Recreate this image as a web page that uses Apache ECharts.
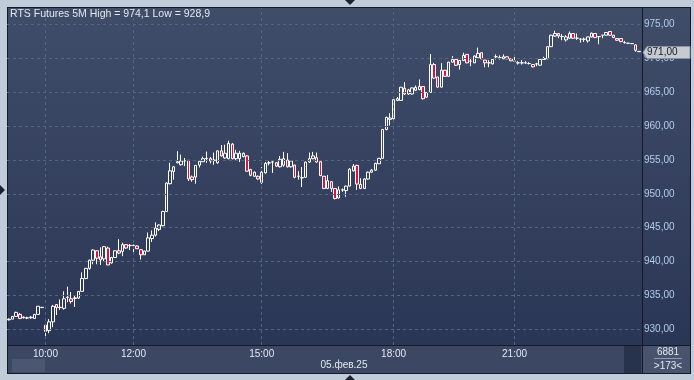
<!DOCTYPE html>
<html>
<head>
<meta charset="utf-8">
<script src="https://cdn.jsdelivr.net/npm/echarts@6/dist/echarts.min.js"></script>
<style>
  html, body { margin:0; padding:0; }
  body { width:694px; height:380px; background:#c0ccda; position:relative; overflow:hidden; font-family:"Liberation Sans", Arial, sans-serif; }
  .abs { position:absolute; }
  #plotbg { left:8px; top:8px; width:634px; height:337px; background:linear-gradient(#404d69, #2a3655); }
  #rpanel { left:643px; top:8px; width:47px; height:337px; background:linear-gradient(#404d69, #2a3655); }
  #xband { left:8px; top:346px; width:634px; height:27px; background:#3b4763; }
  #thumb { left:12px; top:359px; width:33px; height:13px; background:#4b5771; }
  #dark { left:624px; top:346px; width:17px; height:27px; background:#27324c; }
  #rcell { left:643px; top:346px; width:47px; height:27px; background:#48546e; }
  .bl { background:#151a26; }
  #chart { position:absolute; left:0; top:0; width:694px; height:380px; }
  .tri { width:0; height:0; position:absolute; }
</style>
</head>
<body>
<div class="abs" id="plotbg"></div>
<div class="abs" id="rpanel"></div>
<div class="abs" id="xband"></div>
<div class="abs" id="thumb"></div>
<div class="abs" id="dark"></div>
<div class="abs" id="rcell"></div>
<div class="abs bl" style="left:7px;top:7px;width:684px;height:1px;"></div>
<div class="abs bl" style="left:7px;top:7px;width:1px;height:366px;"></div>
<div class="abs bl" style="left:642px;top:8px;width:1px;height:365px;"></div>
<div class="abs bl" style="left:8px;top:345px;width:682px;height:1px;"></div>
<div class="abs bl" style="left:690px;top:7px;width:1px;height:366px;"></div>
<div class="abs bl" style="left:7px;top:373px;width:684px;height:1px;"></div>
<div class="tri" style="left:345px;top:0;border-left:5px solid transparent;border-right:5px solid transparent;border-top:5px solid #1c2232;"></div>
<div class="tri" style="left:345px;top:375px;border-left:5px solid transparent;border-right:5px solid transparent;border-bottom:5px solid #1c2232;"></div>
<div class="tri" style="left:0;top:185px;border-top:5px solid transparent;border-bottom:5px solid transparent;border-left:5px solid #1c2232;"></div>
<div id="chart"></div>
<script>
// ---- data ----
const sessions = [['09:10', '13:55'], ['14:05', '18:45'], ['19:05', '23:50']];
const timeLabels = ['10:00', '12:00', '15:00', '18:00', '21:00'];
const priceTicks = [930, 935, 940, 945, 950, 955, 960, 965, 970, 975];
const dateLabel = '05.фев.25';
const volumeText = '6881';
const barsText = '>173<';

// rows: [open, close, low, high]
const candlesMorning = [
  [931.4,931.5,931.3,931.6],[931.5,931.9,931.5,931.95],[931.9,932.5,931.85,932.6],[932.2,931.6,931.5,932.4],
  [931.7,931.8,931.6,931.9],[931.7,931.65,931.5,931.85],[931.7,931.8,931.55,931.95],[931.6,932.2,931.6,932.2],
  [932.2,933.4,932.2,933.4],[933.2,933.25,933.2,933.3],[930.6,929.7,928.9,930.8],[929.8,931.1,929.4,931.5],
  [931.1,933.4,930.3,933.6],[933.65,933.2,932.1,933.7],[933.2,933.25,932.9,934.4],[933.1,934.5,932.9,935.6],
  [934.7,934.75,934.0,936.3],[934.5,934.1,933.8,935.5],[934.55,934.65,933.3,935.0],[934.6,935.6,934.5,935.6],
  [935.6,937.5,935.6,938.4],[937.5,939.0,937.4,939.0],[939.0,940.2,938.8,940.3],[940.2,941.7,939.6,941.8],
  [941.6,940.5,939.6,941.65],[940.7,940.25,939.5,942.1],[940.4,942.2,940.0,942.3],[942.0,939.5,939.5,942.2],
  [939.8,940.6,939.7,940.7],[940.6,941.6,940.6,941.6],[941.6,941.25,941.1,943.3],[941.5,942.5,940.8,942.8],
  [942.5,942.0,941.9,942.5],[942.35,942.4,941.7,942.6],[942.35,942.4,941.0,942.5],[942.3,941.9,941.85,942.4],
  [941.75,941.0,940.3,941.8],[941.0,941.55,941.0,941.6],[941.55,943.5,941.5,944.3],[943.4,943.9,942.9,944.6],
  [943.9,944.95,943.7,945.8],[944.75,945.4,944.5,945.5],[945.3,947.4,945.2,947.5],[947.4,951.6,947.3,951.7],
  [951.5,953.4,951.4,954.6],[953.3,954.0,952.1,954.1],[954.6,954.75,954.5,956.3],[954.3,954.85,954.2,955.8],
  [954.85,954.9,954.1,955.3],[954.95,952.2,951.9,955.0],[952.5,952.1,951.8,952.7],[952.5,954.2,951.5,954.2],
  [954.25,954.8,953.9,954.85],[954.75,955.2,954.7,955.5],[955.2,955.25,954.6,956.25],[955.2,954.85,954.5,955.45],
  [954.95,955.0,954.3,956.1],[954.6,956.35,954.45,956.4]
];
const candlesDay = [
  [956.35,955.6,955.5,957.2],[955.3,956.0,955.2,957.25],[955.2,957.45,955.1,957.85],[957.35,955.2,955.1,957.5],
  [955.2,956.0,955.0,956.5],[955.2,956.0,954.7,956.35],[955.5,956.0,955.4,956.1],[955.6,953.35,953.3,955.7],
  [953.6,952.75,952.6,953.7],[952.6,953.2,952.5,953.3],[952.6,952.2,952.1,952.7],[951.7,953.2,951.45,953.95],
  [953.1,954.5,953.0,954.7],[954.55,954.6,954.2,954.85],[954.7,954.7,953.1,954.85],[954.6,954.1,954.0,954.65],
  [954.0,955.1,953.9,955.6],[954.25,955.2,954.0,956.2],[955.0,954.0,953.9,956.0],[954.0,954.85,953.9,954.9],
  [954.25,952.45,952.3,954.3],[952.6,952.6,952.1,953.35],[952.35,952.4,951.0,953.95],[952.45,954.7,952.4,954.75],
  [954.7,955.2,954.6,956.1],[955.2,955.6,955.1,956.2],[955.35,954.7,954.6,956.1],[954.75,952.7,952.6,954.8],
  [952.6,950.8,950.7,952.65],[950.8,951.95,950.7,952.8],[951.8,950.8,950.3,951.9],[950.8,949.3,949.2,950.85],
  [949.4,950.6,949.3,951.1],[950.55,950.6,950.3,950.8],[950.5,951.15,949.55,951.2],[951.15,953.65,951.1,953.8],
  [953.4,954.1,953.3,954.4],[954.2,951.45,950.6,954.3],[951.4,950.8,950.7,952.3],[950.8,952.2,950.7,952.3],
  [952.2,953.2,952.1,953.3],[953.2,953.5,953.1,953.65],[953.5,954.5,953.4,954.6],[954.45,955.25,954.4,955.3],
  [955.25,959.5,955.2,959.6],[959.5,961.3,959.4,961.4],[961.0,961.2,960.1,961.9],[961.1,963.9,961.0,963.95],
  [963.8,964.05,963.7,964.3],[963.8,965.75,963.75,965.8],[965.6,964.75,964.6,966.5],[964.75,965.35,964.6,965.5],
  [964.75,965.65,964.7,965.7],[965.3,965.72,965.2,966.0],[965.4,965.87,965.3,966.9],[965.85,964.05,963.95,965.9],
  [964.28,964.98,964.2,965.0]
];
const candlesEvening = [
  [964.98,969.1,964.9,970.65],[969.1,967.1,967.0,969.35],[967.26,965.77,965.7,967.3],[965.77,968.26,965.7,969.3],
  [968.26,967.36,967.3,968.3],[967.36,969.45,967.3,969.5],[969.45,969.85,969.4,970.35],[969.85,969.0,968.9,969.9],
  [969.1,969.7,968.36,969.75],[969.7,970.45,969.6,970.85],[970.6,969.35,969.3,970.65],[969.6,969.6,968.86,970.1],
  [969.35,970.35,969.3,970.45],[970.1,970.75,970.0,971.6],[970.85,969.95,969.9,970.9],[969.75,969.35,968.7,969.8],
  [969.35,969.35,968.7,969.75],[969.2,969.85,969.1,969.9],[970.25,970.25,969.85,970.6],[970.1,970.1,969.85,970.45],
  [969.95,970.25,969.9,970.6],[970.25,969.95,969.9,970.3],[969.95,969.65,969.6,970.0],[969.6,969.6,969.35,970.6],
  [969.35,969.35,969.1,969.6],[969.35,969.35,969.1,969.75],[969.35,969.35,969.2,969.6],[969.25,969.25,969.1,969.45],
  [969.1,968.76,968.7,969.15],[969.2,969.2,968.86,969.35],[969.0,969.85,968.95,969.9],[969.85,970.0,969.8,970.25],
  [969.95,971.74,969.9,971.8],[971.74,973.43,971.7,973.5],[973.3,973.68,973.2,974.1],[973.68,973.33,972.99,973.7],
  [973.23,973.23,972.69,973.58],[972.74,973.18,972.49,973.43],[972.99,973.68,972.9,973.98],[973.68,972.99,972.9,973.7],
  [972.99,972.99,972.74,973.68],[972.84,972.84,972.34,972.99],[972.84,972.84,972.44,973.08],[972.59,973.18,972.34,973.2],
  [973.18,973.73,973.1,973.83],[973.68,973.08,973.0,973.7],[973.23,973.23,972.1,973.25],[973.43,973.43,972.99,973.45],
  [973.43,973.83,973.4,973.85],[973.98,973.43,973.4,974.0],[973.43,973.08,973.0,973.45],[972.94,972.69,972.6,972.95],
  [972.94,972.49,972.4,972.95],[972.34,972.34,972.19,972.59],[972.24,972.24,972.2,972.3],[972.19,972.19,972.15,972.25],
  [972.0,971.2,971.0,972.05],[971.05,971.0,970.95,971.1]
];

// ---- build ----
function toMin(s) { const p = s.split(':'); return (+p[0]) * 60 + (+p[1]); }
function toStr(m) { const h = Math.floor(m / 60), mm = m % 60; return (h < 10 ? '0' : '') + h + ':' + (mm < 10 ? '0' : '') + mm; }
const times = [];
sessions.forEach(([a, b]) => { for (let m = toMin(a); m <= toMin(b); m += 5) times.push(toStr(m)); });
const candles = candlesMorning.concat(candlesDay, candlesEvening);
const fmt = (v, d) => v.toFixed(d).replace('.', ',');
const hi = Math.max(...candles.map(c => c[3]));
const lo = Math.min(...candles.map(c => c[2]));
const lastClose = candles[candles.length - 1][1];
const FONT = '"Liberation Sans", Arial, sans-serif';

const chart = echarts.init(document.getElementById('chart'), null, { renderer: 'canvas' });
const baseGraphic = [
  { type: 'text', x: 344, y: 365, z: 100, style: { text: dateLabel, fill: '#e4e9f0', font: '10px ' + FONT, textAlign: 'center', textVerticalAlign: 'middle' } },
  { type: 'text', x: 668, y: 352, z: 100, style: { text: volumeText, fill: '#e4e9f0', font: '10px ' + FONT, textAlign: 'center', textVerticalAlign: 'middle' } },
  { type: 'line', z: 100, shape: { x1: 654, y1: 358.5, x2: 682, y2: 358.5 }, style: { stroke: '#8e9ab0', lineWidth: 1 } },
  { type: 'text', x: 668, y: 366, z: 100, style: { text: barsText, fill: '#e4e9f0', font: '10px ' + FONT, textAlign: 'center', textVerticalAlign: 'middle' } }
];
chart.setOption({
  animation: false,
  backgroundColor: 'transparent',
  grid: { left: 7, top: 8, width: 634, height: 337 },
  xAxis: {
    type: 'category', data: times, boundaryGap: true,
    axisLine: { show: false }, axisTick: { show: false }, splitLine: { show: false },
    axisLabel: {
      interval: (i, v) => timeLabels.indexOf(v) >= 0,
      color: '#e4e9f0', fontSize: 10, fontFamily: FONT, margin: 4
    }
  },
  yAxis: {
    type: 'value', position: 'right', min: 927.68, max: 977.45, scale: true,
    axisLine: { show: false }, axisTick: { show: false }, splitLine: { show: false },
    axisLabel: {
      customValues: priceTicks, formatter: v => fmt(v, 2),
      color: '#b3cbeb', fontSize: 10, fontFamily: FONT, margin: 3
    }
  },
  title: [{
    text: 'RTS Futures 5M High = ' + fmt(hi, 1) + ' Low = ' + fmt(lo, 1),
    left: 10, top: 9, padding: 0,
    textStyle: { color: '#e3e8ef', fontSize: 10.5, fontWeight: 'normal', fontFamily: FONT }
  }],
  graphic: baseGraphic,
  series: [{
    type: 'candlestick',
    data: candles,
    barWidth: 3,
    itemStyle: {
      color: 'rgba(0,0,0,0)', color0: '#e0103c',
      borderColor: '#ffffff', borderColor0: '#ffffff', borderWidth: 1
    },
    markLine: {
      silent: true, symbol: ['none', 'none'], animation: false,
      label: { show: false },
      lineStyle: { color: '#56657f', type: [3, 3], width: 1 },
      data: priceTicks.map(v => ({ yAxis: v }))
        .concat(timeLabels.map(t => ({ xAxis: t })))
    }
  }]
});

// last-price tag placed through the library's own scale
const ty = Math.round(chart.convertToPixel({ yAxisIndex: 0 }, lastClose)) + 0.5;
chart.setOption({
  graphic: baseGraphic.concat([
    { type: 'polygon', z: 110, shape: { points: [[643, ty], [647, ty - 6], [690, ty - 6], [690, ty + 6], [647, ty + 6]] },
      style: { fill: '#c6cad1', stroke: '#8a93a4', lineWidth: 1 } },
    { type: 'text', z: 111, x: 647, y: ty, style: { text: fmt(lastClose, 2), fill: '#151a28', font: '10px ' + FONT, textAlign: 'left', textVerticalAlign: 'middle' } }
  ])
});
</script>
</body>
</html>
